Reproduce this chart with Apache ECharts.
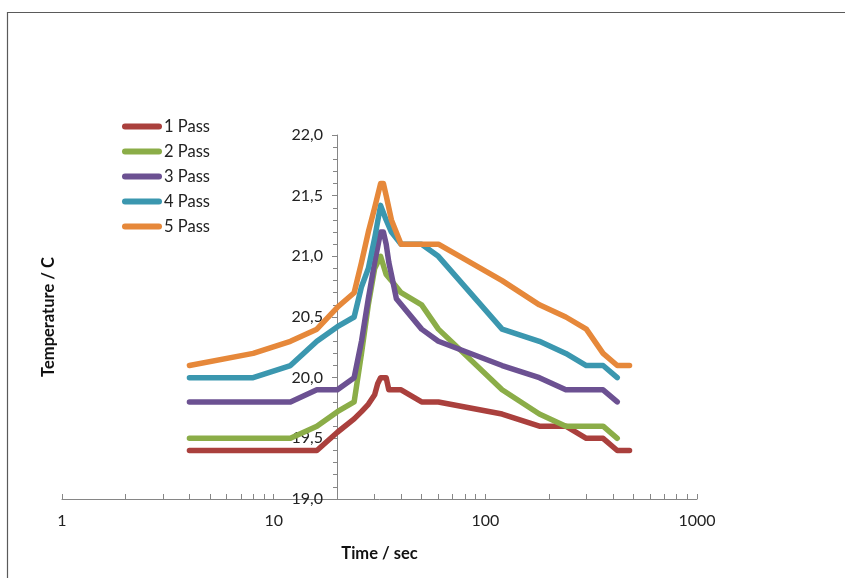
<!DOCTYPE html>
<html><head><meta charset="utf-8">
<script src="https://cdn.jsdelivr.net/npm/echarts@6/dist/echarts.min.js"></script>
<style>html,body{margin:0;padding:0;background:#fff}#c{width:845px;height:578px}</style>
</head><body><div id="c"></div>
<script>
const seriesNames = ['1 Pass', '2 Pass', '3 Pass', '4 Pass', '5 Pass'];
const pass1 = [[4,19.4],[16,19.4],[20,19.55],[24,19.66],[26,19.72],[28,19.78],[30,19.86],[31,19.95],[32,20.0],[34,20.0],[35,19.9],[40,19.9],[50,19.8],[60,19.8],[120,19.7],[180,19.6],[240,19.6],[300,19.5],[360,19.5],[420,19.4],[480,19.4]];
const pass2 = [[4,19.5],[12,19.5],[16,19.6],[20,19.72],[24,19.8],[26,20.2],[28,20.6],[30,20.9],[32,21.0],[34,20.85],[36,20.8],[40,20.7],[50,20.6],[60,20.4],[120,19.9],[180,19.7],[240,19.6],[360,19.6],[420,19.5]];
const pass3 = [[4,19.8],[12,19.8],[16,19.9],[20,19.9],[24,20.0],[26,20.3],[28,20.65],[30,20.95],[32,21.2],[33,21.2],[34,21.1],[35,20.95],[36,20.85],[38,20.65],[50,20.4],[60,20.3],[120,20.1],[180,20.0],[240,19.9],[360,19.9],[420,19.8]];
const pass4 = [[4,20.0],[8,20.0],[12,20.1],[16,20.3],[20,20.42],[24,20.5],[26,20.75],[28,20.9],[30,21.15],[32,21.42],[34,21.3],[36,21.2],[40,21.1],[50,21.1],[60,21.0],[120,20.4],[180,20.3],[240,20.2],[300,20.1],[360,20.1],[420,20.0]];
const pass5 = [[4,20.1],[8,20.2],[12,20.3],[16,20.4],[20,20.58],[24,20.7],[26,20.95],[28,21.2],[30,21.4],[32,21.6],[33,21.6],[34,21.5],[36,21.3],[40,21.1],[60,21.1],[120,20.8],[180,20.6],[240,20.5],[300,20.4],[360,20.2],[420,20.1],[480,20.1]];
const xMinorTicks = [1,2,3,4,5,6,7,8,9,10,20,30,40,50,60,70,80,90,100,200,300,400,500,600,700,800,900,1000];
const colors = ['#AA403D', '#8BAD48', '#6C5192', '#3B97AF', '#E6883A'];
const allData = [pass1, pass2, pass3, pass4, pass5];

const FONT = 'Lato, "Liberation Sans", sans-serif';
const chart = echarts.init(document.getElementById('c'), null, {renderer: 'canvas'});
const pill = 'path://M3,0 L37,0 A3,3 0 0 1 37,6 L3,6 A3,3 0 0 1 3,0 Z';
chart.setOption({
  animation: false,
  backgroundColor: '#fff',
  color: colors,
  textStyle: {fontFamily: FONT},
  graphic: [{type: 'rect', shape: {x: 7.5, y: 12.5, width: 900, height: 700},
    style: {fill: 'none', stroke: '#5a5a5a', lineWidth: 1.2}, silent: true}],
  legend: {
    orient: 'vertical', left: 117, top: 113, itemWidth: 42, itemHeight: 6, itemGap: 8,
    icon: pill, data: seriesNames,
    textStyle: {fontFamily: FONT, fontSize: 16.5, lineHeight: 17, color: '#222', padding: [0, 0, 0, -4]}
  },
  grid: [
    {left: 62, right: 148, top: 135, bottom: 79, containLabel: false},
    {left: 337, right: 148, top: 135, bottom: 79, containLabel: false}
  ],
  xAxis: [
    {type: 'log', logBase: 10, min: 1, max: 1000, gridIndex: 0,
     name: 'Time / sec', nameLocation: 'middle', nameGap: 46,
     nameTextStyle: {fontFamily: FONT, fontSize: 16.5, fontWeight: 'bold', color: '#111'},
     axisLine: {lineStyle: {color: '#868686', width: 1}},
     axisTick: {show: true, inside: true, length: 5, customValues: xMinorTicks, lineStyle: {color: '#868686'}},
     axisLabel: {fontFamily: FONT, fontSize: 16, color: '#222', margin: 14, formatter: v => String(v)},
     splitLine: {show: false}},
    {type: 'value', gridIndex: 1, show: false, min: 0, max: 1}
  ],
  yAxis: [
    {type: 'value', gridIndex: 0, min: 19, max: 22, interval: 0.5,
     name: 'Temperature / C', nameLocation: 'middle', nameGap: 5,
     nameTextStyle: {fontFamily: FONT, fontSize: 16.5, fontWeight: 'bold', color: '#111'},
     axisLine: {show: false}, axisTick: {show: false}, axisLabel: {show: false}, splitLine: {show: false}},
    {type: 'value', gridIndex: 1, min: 19, max: 22, interval: 0.5,
     axisLine: {show: true, lineStyle: {color: '#868686', width: 1}},
     axisTick: {show: true, length: 5, lineStyle: {color: '#868686'}},
     minorTick: {show: true, splitNumber: 5, length: 4, lineStyle: {color: '#868686'}},
     axisLabel: {fontFamily: FONT, fontSize: 16, color: '#222', margin: 14,
       formatter: v => v.toFixed(1).replace('.', ',')},
     splitLine: {show: false}}
  ],
  series: seriesNames.map((n, i) => ({
    name: n, type: 'line', xAxisIndex: 0, yAxisIndex: 0, data: allData[i],
    showSymbol: false, symbol: 'none',
    lineStyle: {width: 5.5, color: colors[i], cap: 'round', join: 'round'},
    itemStyle: {color: colors[i]}
  }))
});
</script></body></html>
